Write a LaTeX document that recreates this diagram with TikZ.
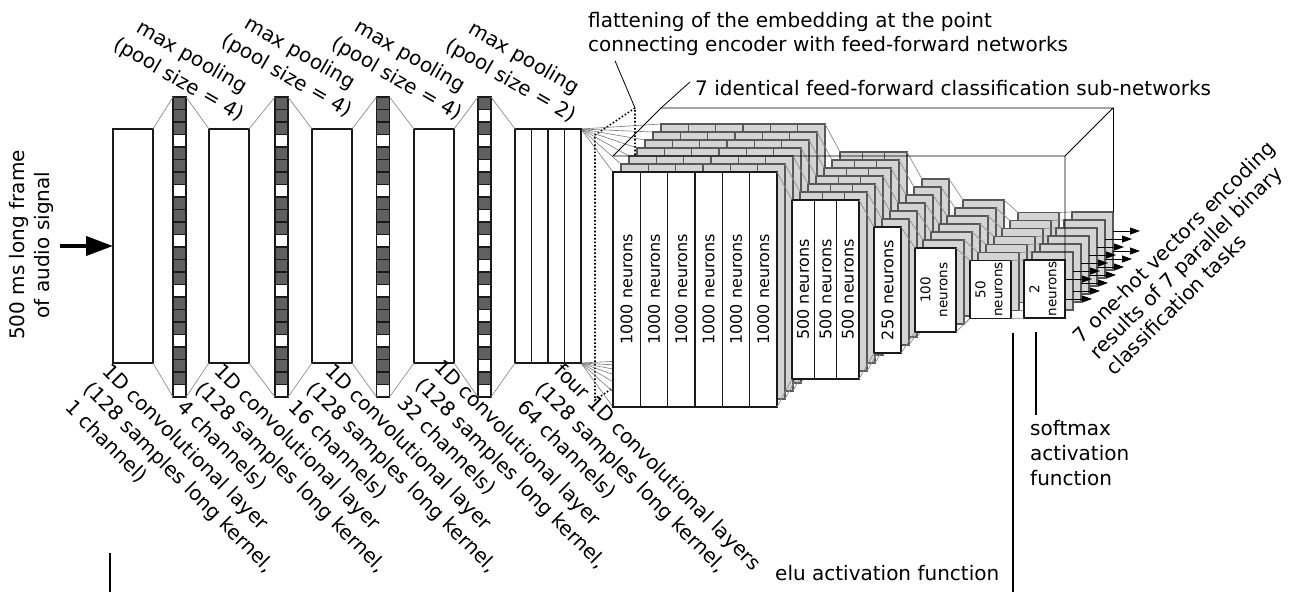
\documentclass[tikz,border=0pt]{standalone}
\usepackage{graphicx}
\usepackage{fontspec}
\setmainfont{DejaVu Sans}
\usetikzlibrary{arrows.meta,calc,backgrounds}
\definecolor{ink}{HTML}{1A1A1A}
\definecolor{wiregray}{HTML}{8C8C8C}
\definecolor{cellgray}{HTML}{606060}
\definecolor{backfill}{HTML}{D4D4D4}
\definecolor{backline}{HTML}{585858}

\begin{document}
\begin{tikzpicture}[x=1pt,y=-1pt,
  font=\fontsize{20}{25}\selectfont,
  convbox/.style={draw=ink,fill=white,line width=1.4pt,inner sep=0pt,outer sep=0pt,
                  minimum width=40pt,minimum height=234pt},
  poolbox/.style={draw=ink,line width=1.4pt,inner sep=0pt,outer sep=0pt,
                  minimum width=13pt,minimum height=300pt},
  cell/.style={draw=ink,line width=1.1pt},
  wire/.style={draw=wiregray,line width=0.7pt},
  fan/.style={draw=wiregray!85!black,line width=0.6pt},
  front/.style={draw=ink,fill=white,line width=1.6pt,inner sep=0pt,outer sep=0pt},
  back/.style={draw=backline,fill=backfill,line width=1.4pt,inner sep=0pt,outer sep=0pt},
  frame/.style={draw=black,line width=0.8pt},
  bracket/.style={draw=black,line width=1.1pt},
  inarrow/.style={-{Triangle[length=27pt,width=19pt]},line width=4pt},
  outarrow/.style={-{Triangle[length=10pt,width=7pt]},line width=0.9pt},
  toplbl/.style={rotate=-30,align=center,inner sep=0pt,font=\fontsize{20}{26}\selectfont},
  botlbl/.style={rotate=-45,anchor=north west,align=left,inner sep=0pt,
                 font=\fontsize{20}{26}\selectfont},
  note/.style={anchor=north west,align=left,inner sep=0pt},
  big/.style={font=\fontsize{16}{18}\selectfont},
  small/.style={font=\fontsize{13.5}{17}\selectfont}
]
\useasboundingbox (0,0) rectangle (1298,592);

% Input
\node[rotate=90,align=center,inner sep=0pt] (inlbl) at (31,245)
  {500 ms long frame\\of audio signal};
\coordinate (src) at (60,246);

% Encoder: convolutions and pooling
\node[convbox] (conv1) at (133,246) {};
\node[poolbox] (pool1) at (179.5,247) {};
\node[convbox] (conv2) at (229,246) {};
\node[poolbox] (pool2) at (281.5,247) {};
\node[convbox] (conv3) at (332,246) {};
\node[poolbox] (pool3) at (383,247) {};
\node[convbox] (conv4) at (434,246) {};
\node[poolbox] (pool4) at (484.5,247) {};
\node[convbox,minimum width=66pt] (conv5) at (548,246) {};
\foreach \i in {1,2,3}
  \draw[draw=ink,line width=1.4pt] ($(conv5.north west)+(16.5*\i,0)$) -- ($(conv5.south west)+(16.5*\i,0)$);

\foreach \p/\s in {pool1/4,pool2/4,pool3/4,pool4/2}
  \foreach \j in {0,...,23}{
    \pgfmathtruncatemacro\rem{mod(\j,\s)}
    \ifnum\rem=\numexpr\s-1\relax \def\cellfill{white}\else\def\cellfill{cellgray}\fi
    \draw[cell,fill=\cellfill] ($(\p.north west)+(0,12.5*\j)$) rectangle ++(13,12.5);
  }

\foreach \a/\b in {conv1/pool1,pool1/conv2,conv2/pool2,pool2/conv3,
                   conv3/pool3,pool3/conv4,conv4/pool4,pool4/conv5}
  \draw[wire] (\a.north east) -- (\b.north west) (\a.south east) -- (\b.south west);

\draw[inarrow] (src) -- (conv1.west);

% Labels above the pooling layers
\node[toplbl] (mp1) at (185,69) {max pooling\\(pool size = 4)};
\node[toplbl] (mp2) at (293,65) {max pooling\\(pool size = 4)};
\node[toplbl] (mp3) at (403,68) {max pooling\\(pool size = 4)};
\node[toplbl] (mp4) at (517,70) {max pooling\\(pool size = 2)};

% Labels below the convolutions
\node[botlbl] (cl1) at (112,361)
  {1D convolutional layer\\(128 samples long kernel,\\1 channel)};
\node[botlbl] (cl2) at (224,361)
  {1D convolutional layer\\(128 samples long kernel,\\4 channels)};
\node[botlbl] (cl3) at (335,361)
  {1D convolutional layer\\(128 samples long kernel,\\16 channels)};
\node[botlbl] (cl4) at (444,357)
  {1D convolutional layer\\(128 samples long kernel,\\32 channels)};
\node[botlbl] (cl5) at (564,361)
  {four 1D convolutional layers\\(128 samples long kernel,\\64 channels)};

% Seven feed-forward sub-networks, back to front
\foreach \k in {6,5,...,0}{
  \pgfmathsetmacro\shiftk{8*\k}
  \ifnum\k=0 \tikzset{ff/.style={front}}\else\tikzset{ff/.style={back}}\fi
  \foreach \i in {1,...,6}
    \node[ff,big,minimum width=27.33pt,minimum height=235pt] (c\k-a\i)
      at (599.33+27.33*\i+\shiftk,289.5-\shiftk) {\ifnum\k=0 \rotatebox{90}{1000 neurons}\fi};
  \foreach \i in {1,2,3}
    \node[ff,big,minimum width=22.33pt,minimum height=179pt] (c\k-b\i)
      at (780.83+22.33*\i+\shiftk,289.5-\shiftk) {\ifnum\k=0 \rotatebox{90}{500 neurons}\fi};
  \node[ff,big,minimum width=27pt,minimum height=126pt] (c\k-c)
    at (887.5+\shiftk,290-\shiftk) {\ifnum\k=0 \rotatebox{90}{250 neurons}\fi};
  \node[ff,small,minimum width=41pt,minimum height=84pt] (c\k-d)
    at (935.5+\shiftk,290-\shiftk)
    {\ifnum\k=0 \rotatebox{90}{\begin{tabular}{@{}c@{}}100\\neurons\end{tabular}}\fi};
  \node[ff,small,minimum width=41pt,minimum height=58pt] (c\k-e)
    at (990.5+\shiftk,289.5-\shiftk)
    {\ifnum\k=0 \rotatebox{90}{\begin{tabular}{@{}c@{}}50\\neurons\end{tabular}}\fi};
  \node[ff,small,minimum width=41pt,minimum height=58pt] (c\k-f)
    at (1044.5+\shiftk,289-\shiftk)
    {\ifnum\k=0 \rotatebox{90}{\begin{tabular}{@{}c@{}}2\\neurons\end{tabular}}\fi};
  \foreach \p/\q in {a6/b1,b3/c,c/d,d/e,e/f}
    \draw[wire] (c\k-\p.north east) -- (c\k-\q.north west)
                (c\k-\p.south east) -- (c\k-\q.south west);
  % two outputs per sub-network
  \coordinate (c\k-o1) at ($(c\k-f.east)+(27,-10)$);
  \coordinate (c\k-o2) at ($(c\k-f.east)+(27,10)$);
  \draw[outarrow] ($(c\k-f.east)+(0,-10)$) -- (c\k-o1);
  \draw[outarrow] ($(c\k-f.east)+(0,10)$) -- (c\k-o2);
}

% Flattened embedding and fan-out
\coordinate (sl-bt) at (635,108);
\coordinate (sl-ft) at (595,135);
\coordinate (sl-fb) at (595,400);
\coordinate (sl-bb) at (635,373);
\begin{scope}[on background layer]
  \draw[dotted,line width=1.6pt] (sl-bt) -- (sl-ft) -- (sl-fb) -- (sl-bb) -- cycle;
  \foreach \k in {0,...,6}
    \draw[fan] (conv5.north east) -- (c\k-a1.north west)
               (conv5.south east) -- (c\k-a1.south west);
\end{scope}

% Frame round the sub-networks
\coordinate (fr-fl) at ($(c0-a1.north west)+(0,-16)$);
\coordinate (fr-fr) at (c0-f.north east |- fr-fl);
\coordinate (fr-bl) at ($(c6-a1.north west)+(0,-16)$);
\coordinate (fr-br) at (c6-f.north east |- fr-bl);
\draw[frame] (c0-f.north east) -- (fr-fr) -- (fr-fl) -- (fr-bl) -- (fr-br) -- (fr-fr);
\draw[frame] (fr-br) -- (c6-f.north east);

% Notes
\node[note,font=\fontsize{20}{24}\selectfont] (flat) at (588,12)
  {flattening of the embedding at the point\\connecting encoder with feed-forward networks};
\node[note] (sublbl) at (695,80) {7 identical feed-forward classification sub-networks};
\draw[frame] ($(flat.south west)+(27,5)$) -- (sl-bt);
\draw[frame] (fr-bl) -- ($(sublbl.west)+(-5,-6)$);

\node[rotate=45,align=left,inner sep=0pt,font=\fontsize{20}{23}\selectfont] (outlbl) at (1190,258)
  {7 one-hot vectors encoding\\results of 7 parallel binary\\classification tasks};

\node[note] (elulbl) at (775,565) {elu activation function};
\node[note] (smlbl) at (1030,420) {softmax\\activation\\function};

% Activation brackets
\coordinate (eluL-a) at (110,553);
\coordinate (eluL-b) at (110,592);
\coordinate (eluR-a) at ($(c0-e.south east)+(2,14)$);
\coordinate (eluR-b) at (eluR-a |- eluL-b);
\coordinate (sm-a) at ($(c0-f.south west)+(12,14)$);
\draw[bracket] (eluL-a) -- (eluL-b);
\draw[bracket] (eluR-a) -- (eluR-b);
\draw[bracket] (sm-a) -- ($(smlbl.north west)+(6,-5)$);

\end{tikzpicture}
\end{document}
